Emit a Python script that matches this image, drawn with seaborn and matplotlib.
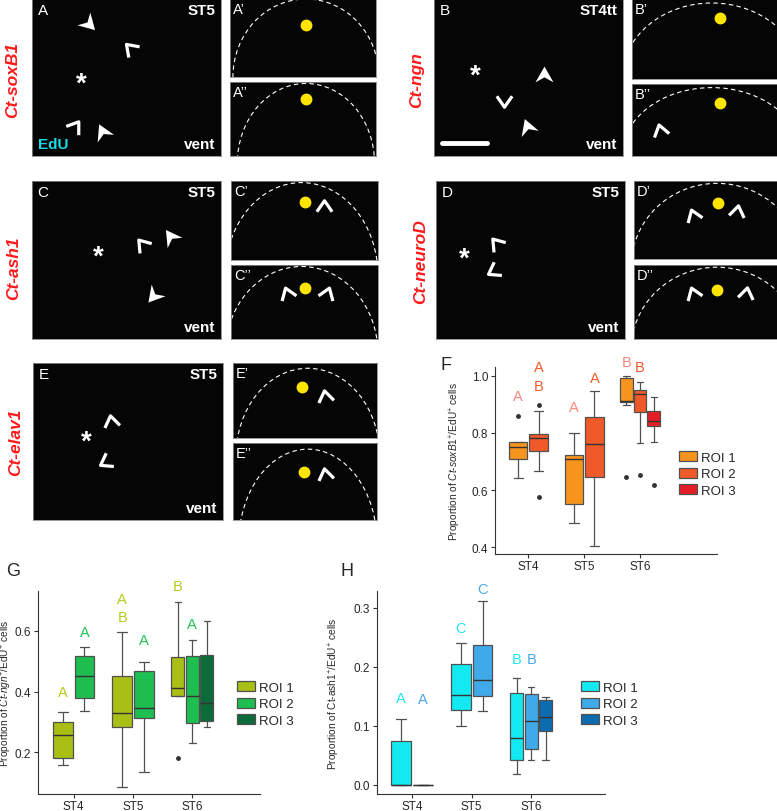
import numpy as np
import pandas as pd
import matplotlib
matplotlib.use("Agg")
import matplotlib.pyplot as plt
import seaborn as sns
from matplotlib.patches import Arc, Patch
from matplotlib.path import Path
from matplotlib.markers import MarkerStyle
from matplotlib.transforms import Affine2D

# --- data (9 values per group, quartiles at 3rd/5th/7th) ---
STAGES = ["ST4", "ST5", "ST6"]
ROIS = ["ROI 1", "ROI 2", "ROI 3"]

soxb1_roi1 = {"ST4": [0.642, 0.690, 0.709, 0.730, 0.749, 0.760, 0.767, 0.767, 0.860],
              "ST5": [0.484, 0.520, 0.550, 0.650, 0.707, 0.715, 0.724, 0.760, 0.800],
              "ST6": [0.647, 0.897, 0.907, 0.910, 0.913, 0.950, 0.993, 0.997, 1.000]}
soxb1_roi2 = {"ST4": [0.577, 0.668, 0.738, 0.760, 0.782, 0.790, 0.797, 0.875, 0.897],
              "ST5": [0.404, 0.550, 0.645, 0.700, 0.761, 0.800, 0.857, 0.900, 0.945],
              "ST6": [0.653, 0.765, 0.874, 0.900, 0.936, 0.940, 0.948, 0.960, 0.976]}
soxb1_roi3 = {"ST6": [0.619, 0.767, 0.823, 0.830, 0.840, 0.860, 0.878, 0.900, 0.924]}

ngn_roi1 = {"ST4": [0.159, 0.170, 0.181, 0.220, 0.258, 0.280, 0.299, 0.320, 0.334],
            "ST5": [0.087, 0.200, 0.285, 0.310, 0.331, 0.400, 0.450, 0.520, 0.595],
            "ST6": [0.182, 0.385, 0.387, 0.400, 0.413, 0.460, 0.513, 0.600, 0.695]}
ngn_roi2 = {"ST4": [0.337, 0.360, 0.378, 0.420, 0.450, 0.490, 0.518, 0.530, 0.548],
            "ST5": [0.134, 0.250, 0.313, 0.330, 0.346, 0.400, 0.468, 0.490, 0.499],
            "ST6": [0.231, 0.260, 0.296, 0.350, 0.387, 0.450, 0.516, 0.540, 0.569]}
ngn_roi3 = {"ST6": [0.282, 0.290, 0.304, 0.330, 0.361, 0.450, 0.520, 0.580, 0.631]}

ash1_roi1 = {"ST4": [0.0, 0.0, 0.0, 0.0, 0.0, 0.040, 0.074, 0.090, 0.111],
             "ST5": [0.100, 0.115, 0.127, 0.140, 0.151, 0.180, 0.205, 0.220, 0.240],
             "ST6": [0.018, 0.030, 0.042, 0.060, 0.079, 0.120, 0.155, 0.170, 0.181]}
ash1_roi2 = {"ST4": [0.0, 0.0, 0.0, 0.0, 0.0, 0.0, 0.0, 0.0, 0.0],
             "ST5": [0.124, 0.140, 0.150, 0.165, 0.178, 0.210, 0.236, 0.280, 0.311],
             "ST6": [0.041, 0.050, 0.060, 0.080, 0.107, 0.130, 0.153, 0.160, 0.166]}
ash1_roi3 = {"ST6": [0.042, 0.070, 0.091, 0.100, 0.114, 0.130, 0.143, 0.146, 0.148]}

# significance letters: (stage, roi, letter, y)
soxb1_letters = [("ST4", "ROI 1", "A", 0.928), ("ST4", "ROI 2", "A", 1.029), ("ST4", "ROI 2", "B", 0.965),
                 ("ST5", "ROI 1", "A", 0.892), ("ST5", "ROI 2", "A", 0.992),
                 ("ST6", "ROI 1", "B", 1.046), ("ST6", "ROI 2", "B", 1.029)]
ngn_letters = [("ST4", "ROI 1", "A", 0.400), ("ST4", "ROI 2", "A", 0.596),
               ("ST5", "ROI 1", "A", 0.704), ("ST5", "ROI 1", "B", 0.647), ("ST5", "ROI 2", "A", 0.570),
               ("ST6", "ROI 1", "B", 0.748), ("ST6", "ROI 2", "A", 0.622)]
ash1_letters = [("ST4", "ROI 1", "A", 0.146), ("ST4", "ROI 2", "A", 0.145),
                ("ST5", "ROI 1", "C", 0.265), ("ST5", "ROI 2", "C", 0.331),
                ("ST6", "ROI 1", "B", 0.213), ("ST6", "ROI 2", "B", 0.213)]

soxb1_colors = {"ROI 1": "#F7941D", "ROI 2": "#EF5A28", "ROI 3": "#E51E25"}
ngn_colors = {"ROI 1": "#A9BF16", "ROI 2": "#1EBE50", "ROI 3": "#0B6B3A"}
ash1_colors = {"ROI 1": "#12E9F1", "ROI 2": "#3FA9E9", "ROI 3": "#0B6CAF"}
soxb1_letter_colors = {"ROI 1": "#F6877A", "ROI 2": "#F2592B"}
ngn_letter_colors = {"ROI 1": "#B5CB19", "ROI 2": "#1DC452"}
ash1_letter_colors = {"ROI 1": "#1EE6F0", "ROI 2": "#4AA8E8"}

W, H = 777, 812
BOX_W = 0.73

sns.set_style("ticks")
plt.rcParams["font.family"] = ["Liberation Sans", "DejaVu Sans"]
plt.rcParams["mathtext.fontset"] = "custom"
plt.rcParams["mathtext.rm"] = "Liberation Sans"
plt.rcParams["mathtext.it"] = "Liberation Sans:italic"
plt.rcParams["mathtext.bf"] = "Liberation Sans:bold"

fig = plt.figure(figsize=(W / 100, H / 100), dpi=100)


def px_axes(x0, y0, x1, y1):
    return fig.add_axes([x0 / W, 1 - y1 / H, (x1 - x0) / W, (y1 - y0) / H])


# --- image panels (black placeholders with their annotations) ---
CHEVRON = Path([(-0.8, -0.55), (0, 0.6), (0.8, -0.55)], [Path.MOVETO, Path.LINETO, Path.LINETO])
ARROW = Path([(-0.8, -0.7), (0, 0.7), (0.8, -0.7), (0, -0.25), (-0.8, -0.7)],
             [Path.MOVETO, Path.LINETO, Path.LINETO, Path.LINETO, Path.CLOSEPOLY])


def mark(ax, x, y, kind, angle):
    ms = MarkerStyle(CHEVRON if kind == "c" else ARROW, transform=Affine2D().rotate_deg(angle))
    if kind == "c":
        ax.plot([x], [y], marker=ms, ms=11, mew=2.3, mec="white", mfc="none", transform=ax.transAxes)
    else:
        ax.plot([x], [y], marker=ms, ms=13, mew=0, mfc="white", transform=ax.transAxes)


def image_axes(box):
    ax = px_axes(*box)
    ax.set_facecolor("#050505")
    ax.set_xlim(0, 1)
    ax.set_ylim(0, 1)
    ax.set_xticks([])
    ax.set_yticks([])
    for s in ax.spines.values():
        s.set_color("#888888")
        s.set_linewidth(0.6)
    return ax


main_panels = [
    dict(box=(32, 0, 221, 157), label="A", stage="ST5", edu=True, star=(0.26, 0.46),
         marks=[(0.30, 0.84, "a", -135), (0.52, 0.69, "c", 45), (0.23, 0.19, "c", -35), (0.37, 0.16, "a", 25)]),
    dict(box=(434, 0, 623, 157), label="B", stage="ST4tt", bar=True, star=(0.22, 0.51),
         marks=[(0.58, 0.52, "a", 0), (0.37, 0.35, "c", 180), (0.49, 0.19, "a", 20)]),
    dict(box=(32, 182, 221, 340), label="C", stage="ST5", star=(0.35, 0.52),
         marks=[(0.58, 0.60, "c", 40), (0.73, 0.65, "a", 35), (0.64, 0.27, "a", 140)]),
    dict(box=(436, 182, 625, 340), label="D", stage="ST5", star=(0.15, 0.51),
         marks=[(0.32, 0.61, "c", 40), (0.30, 0.43, "c", 120)]),
    dict(box=(33, 364, 223, 521), label="E", stage="ST5", star=(0.28, 0.50),
         marks=[(0.41, 0.63, "c", 10), (0.38, 0.37, "c", 120)]),
]
sub_panels = [
    dict(box=(230, 0, 376, 78), label="A\u2019", dot=(0.52, 0.67), arc=(0.52, 0.0, 0.50, 1.0), marks=[]),
    dict(box=(230, 83, 376, 157), label="A\u2019\u2019", dot=(0.52, 0.77), arc=(0.52, -0.1, 0.47, 1.08), marks=[]),
    dict(box=(632, 0, 777, 80), label="B\u2019", dot=(0.61, 0.76), arc=(0.55, 0.0, 0.62, 0.95), marks=[]),
    dict(box=(632, 85, 777, 157), label="B\u2019\u2019", dot=(0.61, 0.73), arc=(0.55, 0.0, 0.62, 0.95),
         marks=[(0.19, 0.36, "c", 15)]),
    dict(box=(231, 182, 378, 261), label="C\u2019", dot=(0.50, 0.73), arc=(0.48, -0.2, 0.52, 1.18),
         marks=[(0.63, 0.68, "c", 0)]),
    dict(box=(231, 266, 378, 340), label="C\u2019\u2019", dot=(0.50, 0.69), arc=(0.48, -0.2, 0.52, 1.18),
         marks=[(0.38, 0.62, "c", 20), (0.65, 0.62, "c", -20)]),
    dict(box=(634, 182, 777, 260), label="D\u2019", dot=(0.59, 0.72), arc=(0.58, -0.1, 0.60, 1.07),
         marks=[(0.41, 0.56, "c", 20), (0.72, 0.62, "c", -10)]),
    dict(box=(634, 266, 777, 340), label="D\u2019\u2019", dot=(0.58, 0.66), arc=(0.58, -0.15, 0.60, 1.12),
         marks=[(0.41, 0.62, "c", 20), (0.78, 0.62, "c", -10)]),
    dict(box=(233, 364, 377, 439), label="E\u2019", dot=(0.48, 0.68), arc=(0.52, -0.25, 0.50, 1.18),
         marks=[(0.64, 0.56, "c", 10)]),
    dict(box=(233, 444, 377, 521), label="E\u2019\u2019", dot=(0.49, 0.62), arc=(0.52, -0.3, 0.48, 1.22),
         marks=[(0.64, 0.60, "c", 10)]),
]

for p in main_panels:
    ax = image_axes(p["box"])
    ax.text(0.03, 0.975, p["label"], color="white", fontsize=11, ha="left", va="top", transform=ax.transAxes)
    ax.text(0.97, 0.975, p["stage"], color="white", fontsize=11, fontweight="bold", ha="right", va="top",
            transform=ax.transAxes)
    ax.text(0.97, 0.03, "vent", color="white", fontsize=11, fontweight="bold", ha="right", va="bottom",
            transform=ax.transAxes)
    if p.get("edu"):
        ax.text(0.03, 0.03, "EdU", color="#19D9E6", fontsize=11, fontweight="bold", ha="left", va="bottom",
                transform=ax.transAxes)
    if p.get("bar"):
        ax.plot([0.04, 0.28], [0.085, 0.085], color="white", lw=3.5, transform=ax.transAxes)
    ax.text(p["star"][0], p["star"][1], "*", color="white", fontsize=20, fontweight="bold",
            ha="center", va="center", transform=ax.transAxes)
    for m in p["marks"]:
        mark(ax, *m)

for p in sub_panels:
    ax = image_axes(p["box"])
    ax.text(0.02, 0.96, p["label"], color="white", fontsize=10.5, ha="left", va="top", transform=ax.transAxes)
    cx, cy, a, b = p["arc"]
    ax.add_patch(Arc((cx, cy), 2 * a, 2 * b, theta1=0, theta2=180, transform=ax.transAxes,
                     color="white", lw=0.8, ls=(0, (4, 3))))
    ax.plot([p["dot"][0]], [p["dot"][1]], "o", color="#FFE500", ms=7.5, transform=ax.transAxes)
    for m in p["marks"]:
        mark(ax, *m)

row_labels = [("Ct-soxB1", 13, 80), ("Ct-ngn", 417, 80), ("Ct-ash1", 14, 268),
              ("Ct-neuroD", 421, 262), ("Ct-elav1", 16, 442)]
for txt, x, y in row_labels:
    fig.text(x / W, 1 - y / H, txt, color="#FF1A1A", fontsize=12.5, fontweight="bold", fontstyle="italic",
             rotation=90, ha="center", va="center")


# --- box plot panels ---
def box_panel(box, groups, colors, letters, letter_colors, ylim, yticks, xlim, ylabel, label_x, legend_at):
    rows = [(s, roi, v) for roi, d in groups.items() for s, vals in d.items() for v in vals]
    df = pd.DataFrame(rows, columns=["stage", "roi", "value"])
    ax = px_axes(*box)
    present_by_stage = {}
    for stage in STAGES:
        sub = df[df["stage"] == stage]
        present = [r for r in ROIS if r in set(sub["roi"])]
        present_by_stage[stage] = present
        sns.boxplot(data=sub, x="stage", y="value", hue="roi", order=STAGES, hue_order=present,
                    palette=colors, saturation=1, width=BOX_W, gap=0.1, linecolor="#505050",
                    linewidth=0.9, fliersize=2.5, legend=False, ax=ax,
                    flierprops=dict(marker="o", markerfacecolor="#333333", markeredgecolor="#333333"),
                    medianprops=dict(color="#333333", linewidth=1.0))
    for stage, roi, letter, y in letters:
        present = present_by_stage[stage]
        k = present.index(roi)
        x = STAGES.index(stage) - BOX_W / 2 + BOX_W / len(present) * (k + 0.5)
        ax.text(x, y, letter, color=letter_colors[roi], fontsize=10.5, ha="center", va="center")
    ax.set_xlim(*xlim)
    ax.set_ylim(*ylim)
    ax.set_yticks(yticks)
    ax.set_yticklabels([f"{t:.1f}" for t in yticks])
    ax.set_xlabel("")
    ax.set_ylabel(ylabel, fontsize=7.3)
    # label anchor is its right edge after rotation
    ax.yaxis.set_label_coords((label_x - box[0]) / (box[2] - box[0]), 0.5)
    ax.tick_params(axis="y", labelsize=8.5, length=3, width=0.8, color="#333333", pad=2)
    ax.tick_params(axis="x", labelsize=8.5, length=3, width=0.8, color="#333333", pad=1)
    for side in ["top", "right"]:
        ax.spines[side].set_visible(False)
    for side in ["left", "bottom"]:
        ax.spines[side].set_color("#333333")
        ax.spines[side].set_linewidth(0.8)
    handles = [Patch(facecolor=colors[r], edgecolor="#505050", linewidth=0.9, label=r) for r in ROIS]
    fig.legend(handles=handles, loc="center left", bbox_to_anchor=(legend_at[0] / W, 1 - legend_at[1] / H),
               frameon=False, fontsize=9.5, handlelength=1.4, handleheight=0.8, handletextpad=0.3,
               labelspacing=0.3, borderaxespad=0, borderpad=0)
    return ax


box_panel((495, 368, 717, 555), {"ROI 1": soxb1_roi1, "ROI 2": soxb1_roi2, "ROI 3": soxb1_roi3},
          soxb1_colors, soxb1_letters, soxb1_letter_colors, (0.377, 1.03), [0.4, 0.6, 0.8, 1.0],
          (-0.60, 3.38), r"Proportion of $\it{Ct}$-$\it{soxB1}$$^{+}$/EdU$^{+}$ cells", 463, (679, 475))
box_panel((38, 592, 260, 795), {"ROI 1": ngn_roi1, "ROI 2": ngn_roi2, "ROI 3": ngn_roi3},
          ngn_colors, ngn_letters, ngn_letter_colors, (0.063, 0.731), [0.2, 0.4, 0.6],
          (-0.60, 3.14), r"Proportion of $\it{Ct}$-$\it{ngn}$$^{+}$/EdU$^{+}$ cells", 14, (237, 705))
box_panel((377, 592, 605, 795), {"ROI 1": ash1_roi1, "ROI 2": ash1_roi2, "ROI 3": ash1_roi3},
          ash1_colors, ash1_letters, ash1_letter_colors, (-0.016, 0.328), [0.0, 0.1, 0.2, 0.3],
          (-0.59, 3.24), r"Proportion of Ct-ash1$^{+}$/EdU$^{+}$ cells", 342, (581, 705))

for txt, x, y in [("F", 440, 365), ("G", 6, 572), ("H", 340, 572)]:
    fig.text(x / W, 1 - y / H, txt, fontsize=13, ha="left", va="center")

fig.savefig("out.png", dpi=100)
